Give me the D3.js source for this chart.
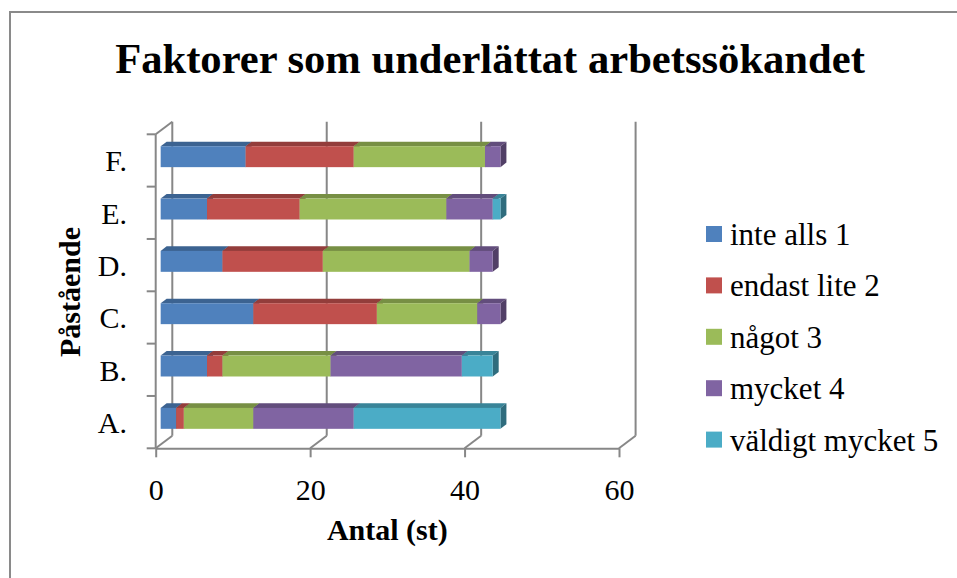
<!DOCTYPE html>
<html>
  <head>
    <meta charset="utf-8">
    <style type="text/css">
      body { margin: 0; background: #fff; }
      svg { display: block; }
      svg text { font-family: "Liberation Serif", "Times New Roman", serif !important; fill: #000; }
    </style>
    <title>Faktorer som underlättat arbetssökandet</title>
  </head>
  <body>
    <script src="https://cdn.jsdelivr.net/npm/d3@7"></script>
    <script>

/*========== Data ==========*/
const categories = ["A.", "B.", "C.", "D.", "E.", "F."];
const seriesNames = ["inte alls 1", "endast lite 2", "något 3", "mycket 4", "väldigt mycket 5"];
const inteAlls = [2, 6, 12, 8, 6, 11];
const endastLite = [1, 2, 16, 13, 12, 14];
const nagot = [9, 14, 13, 19, 19, 17];
const mycket = [13, 17, 3, 3, 6, 2];
const valdigtMycket = [19, 4, 0, 0, 1, 0];
const xTicks = [0, 20, 40, 60];
const seriesColors = ["#4F81BD", "#C0504D", "#9BBB59", "#8064A2", "#4BACC6"];

/*========== Zones ==========*/
const W = 957, H = 578;
const serif = "'Liberation Serif', 'Times New Roman', serif";
// front plane of the 3D box
const plot = {left: 155.7, right: 619, top: 134.3, bottom: 448.3};
// depth of the box (full wall offset)
const depth = {dx: 16.6, dy: -12.6};
// bar slab sits between these depth fractions
const barZ0 = 0.3, barZ1 = 0.66;
const gridColor = "#878787";

var svg = d3.select("body").append("svg")
    .attr("width", W)
    .attr("height", H)
    .style("font-family", serif);

// outer border of the chart area
svg.append("rect")
    .attr("x", 10).attr("y", 12)
    .attr("width", W + 20).attr("height", H + 20)
    .attr("fill", "none")
    .attr("stroke", "#8a8a8a")
    .attr("stroke-width", 2);

// title
svg.append("text")
    .attr("x", 490).attr("y", 73)
    .attr("text-anchor", "middle")
    .attr("font-weight", "bold")
    .style("font-family", serif)
    .style("font-size", "42.6px")
  .text("Faktorer som underlättat arbetssökandet");

/*========== Scales ==========*/
var x = d3.scaleLinear()
    .domain([0, 60])
    .range([plot.left, plot.right]);

var y = d3.scaleBand()
    .domain(categories.slice().reverse())
    .range([plot.top, plot.bottom])
    .paddingInner(0.6)
    .paddingOuter(0.3);

// project a front-plane point into depth z (0 = front, 1 = back wall)
function pt(px, py, z) {
  return [px + depth.dx * z, py + depth.dy * z];
}

/*========== Walls / gridlines ==========*/
var grid = svg.append("g")
    .attr("stroke", gridColor)
    .attr("stroke-width", 2)
    .attr("fill", "none");

// back wall vertical gridlines
xTicks.forEach(function(t) {
  var a = pt(x(t), plot.top, 1), b = pt(x(t), plot.bottom, 1);
  grid.append("line")
      .attr("x1", a[0]).attr("y1", a[1])
      .attr("x2", b[0]).attr("y2", b[1]);
  // floor diagonal from front tick to back
  var f = pt(x(t), plot.bottom, 0);
  grid.append("line")
      .attr("x1", f[0]).attr("y1", f[1])
      .attr("x2", b[0]).attr("y2", b[1]);
});

// top diagonal of the side wall
var tl0 = pt(plot.left, plot.top, 0), tl1 = pt(plot.left, plot.top, 1);
grid.append("line")
    .attr("x1", tl0[0]).attr("y1", tl0[1])
    .attr("x2", tl1[0]).attr("y2", tl1[1]);

// front vertical axis line + ticks on category boundaries
grid.append("line")
    .attr("x1", plot.left).attr("y1", plot.top)
    .attr("x2", plot.left).attr("y2", plot.bottom);

var step = y.step();
d3.range(categories.length + 1).forEach(function(i) {
  var yy = plot.top + i * step;
  grid.append("line")
      .attr("x1", plot.left - 9).attr("y1", yy)
      .attr("x2", plot.left).attr("y2", yy);
});

/*========== X axis (front floor edge) ==========*/
var xAxis = d3.axisBottom(x)
    .tickValues(xTicks)
    .tickSize(9)
    .tickSizeOuter(0)
    .tickPadding(21);

var gx = svg.append("g")
    .attr("transform", `translate(0, ${plot.bottom})`)
    .call(xAxis)
    .attr("font-family", null)
    .attr("font-size", null);
gx.select(".domain").attr("stroke", gridColor).attr("stroke-width", 2);
gx.selectAll(".tick line").attr("stroke", gridColor).attr("stroke-width", 2);
gx.selectAll(".tick text")
    .style("font-family", serif)
    .style("font-size", "30px")
    .attr("fill", "#000");

svg.append("text")
    .attr("x", (plot.left + plot.right) / 2)
    .attr("y", 540)
    .attr("text-anchor", "middle")
    .attr("font-weight", "bold")
    .style("font-family", serif)
    .style("font-size", "30px")
  .text("Antal (st)");

/*========== Y axis labels ==========*/
categories.forEach(function(c) {
  var cy = plot.top + (categories.length - 1 - categories.indexOf(c)) * step + step / 2;
  svg.append("text")
      .attr("x", 127)
      .attr("y", cy + 11)
      .attr("text-anchor", "end")
      .style("font-family", serif)
      .style("font-size", "30px")
    .text(c);
});

svg.append("text")
    .attr("transform", "translate(80, 292) rotate(-90)")
    .attr("text-anchor", "middle")
    .attr("font-weight", "bold")
    .style("font-family", serif)
    .style("font-size", "30px")
  .text("Påstående");

/*========== Stacked 3D bars ==========*/
var rows = categories.map(function(c, i) {
  return {cat: c, s0: inteAlls[i], s1: endastLite[i], s2: nagot[i], s3: mycket[i], s4: valdigtMycket[i]};
});
var stacked = d3.stack().keys(["s0", "s1", "s2", "s3", "s4"])(rows);

var bars = svg.append("g");
var bdx = depth.dx * (barZ1 - barZ0), bdy = depth.dy * (barZ1 - barZ0);

rows.forEach(function(r, i) {
  stacked.forEach(function(layer, k) {
    var d = layer[i];
    if (d[1] - d[0] <= 0) return;
    var base = d3.color(seriesColors[k]);
    var p0 = pt(x(d[0]), y(r.cat), barZ0);
    var p1 = pt(x(d[1]), y(r.cat), barZ0);
    var h = y.bandwidth();
    // top face
    bars.append("path")
        .attr("d", d3.line()([
          p0, p1, [p1[0] + bdx, p1[1] + bdy], [p0[0] + bdx, p0[1] + bdy]
        ]) + "Z")
        .attr("fill", base.darker(0.75));
    // right side face
    bars.append("path")
        .attr("d", d3.line()([
          p1, [p1[0] + bdx, p1[1] + bdy], [p1[0] + bdx, p1[1] + bdy + h], [p1[0], p1[1] + h]
        ]) + "Z")
        .attr("fill", base.darker(1.3));
    // front face
    bars.append("rect")
        .attr("x", p0[0]).attr("y", p0[1])
        .attr("width", p1[0] - p0[0])
        .attr("height", h)
        .attr("fill", base);
  });
});

/*========== Legend ==========*/
var legend = svg.append("g");
seriesNames.forEach(function(name, k) {
  var ly = 226 + k * 51.4;
  legend.append("rect")
      .attr("x", 706).attr("y", ly)
      .attr("width", 16).attr("height", 16)
      .attr("fill", seriesColors[k]);
  legend.append("text")
      .attr("x", 730).attr("y", ly + 19)
      .style("font-family", serif)
      .style("font-size", "31px")
    .text(name);
});

    </script>
  </body>
</html>
